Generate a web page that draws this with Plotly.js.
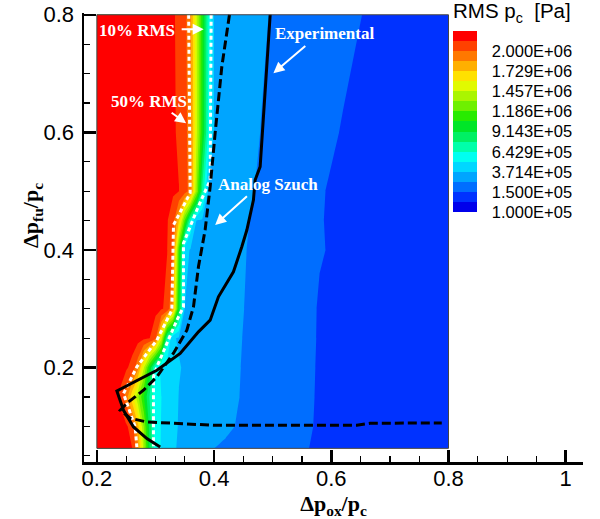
<!DOCTYPE html>
<html><head><meta charset="utf-8">
<script src="https://cdn.plot.ly/plotly-3.0.1.min.js"></script>
<style>html,body{margin:0;padding:0;background:#fff;}#chart{width:600px;height:519px;}</style>
</head><body><div id="chart"></div>
<script>
// Grid of the contour field: Δp_ox/p_c (columns) and Δp_fu/p_c (rows)
const dpOx = [0.20,0.23,0.24,0.25,0.26,0.27,0.28,0.29,0.30,0.31,0.32,0.33,0.34,0.35,0.36,0.37,0.38,0.39,0.40,0.42,0.44,0.46,0.48,0.50,0.52,0.55,0.58,0.62,0.66,0.72,0.80];
const dpFu = [0.0625,0.1,0.15,0.2,0.25,0.3,0.4,0.45,0.5,0.6,0.8];
// RMS p_c, in units of 1e5 Pa (one row per dpFu value)
const rmsPc = [
 [23.39,22.37,22.03,21.69,21.40,18.99,14.00,9.01,5.56,5.00,4.43,3.88,3.60,3.44,3.27,3.11,2.94,2.77,2.61,2.46,2.32,2.18,2.03,1.89,1.75,1.53,1.49,1.46,1.44,1.40,1.35],
 [23.39,22.31,21.94,21.57,20.76,17.73,13.21,8.69,5.56,5.03,4.50,3.99,3.66,3.55,3.44,3.33,3.22,3.11,2.99,2.77,2.56,2.39,2.20,2.02,1.84,1.58,1.49,1.46,1.44,1.40,1.35],
 [23.39,21.79,21.08,19.41,16.47,13.54,10.59,7.66,5.57,5.08,4.60,4.11,3.69,3.59,3.48,3.38,3.27,3.16,3.06,2.85,2.64,2.45,2.26,2.08,1.89,1.61,1.49,1.46,1.44,1.40,1.35],
 [23.39,22.31,21.94,21.57,20.91,19.12,14.73,10.34,5.95,4.80,4.46,4.12,3.78,3.63,3.53,3.42,3.30,3.19,3.09,2.87,2.66,2.47,2.30,2.11,1.92,1.64,1.49,1.47,1.44,1.40,1.35],
 [23.39,22.73,22.51,22.28,22.06,21.84,21.63,21.40,20.45,15.11,6.97,3.82,3.63,3.54,3.44,3.35,3.25,3.16,3.06,2.87,2.68,2.50,2.32,2.14,1.95,1.69,1.49,1.47,1.44,1.40,1.35],
 [23.39,22.87,22.70,22.52,22.35,22.18,22.01,21.84,21.67,21.49,21.08,18.27,9.68,3.71,3.60,3.49,3.38,3.27,3.16,2.94,2.72,2.52,2.34,2.16,1.99,1.72,1.49,1.47,1.44,1.40,1.35],
 [23.39,22.88,22.71,22.54,22.37,22.20,22.03,21.86,21.69,21.52,21.38,20.00,11.41,4.12,3.63,3.53,3.42,3.30,3.19,2.98,2.77,2.56,2.40,2.22,2.05,1.79,1.53,1.48,1.45,1.41,1.35],
 [23.39,22.90,22.74,22.58,22.41,22.25,22.09,21.92,21.76,21.60,21.44,20.68,17.23,11.72,6.18,3.68,3.56,3.44,3.33,3.08,2.85,2.61,2.43,2.24,2.06,1.80,1.52,1.48,1.45,1.41,1.35],
 [23.39,22.96,22.81,22.66,22.52,22.37,22.22,22.09,21.94,21.79,21.64,21.51,21.38,20.64,19.40,13.46,7.50,3.70,3.56,3.27,2.99,2.71,2.49,2.30,2.11,1.82,1.53,1.48,1.45,1.41,1.35],
 [23.39,22.94,22.79,22.66,22.51,22.36,22.21,22.06,21.91,21.76,21.63,21.48,21.22,20.54,19.14,14.84,10.54,6.25,3.67,3.40,3.13,2.85,2.59,2.42,2.24,1.98,1.72,1.49,1.46,1.41,1.35],
 [23.39,22.94,22.79,22.64,22.50,22.35,22.20,22.05,21.91,21.76,21.61,21.46,21.15,20.47,18.78,14.71,10.63,6.56,3.69,3.45,3.20,2.97,2.73,2.54,2.40,2.19,1.97,1.69,1.49,1.43,1.35]
];
// Legend contour levels (1e5 Pa) and labels
const levels = [1.0,1.25,1.5,2.607,3.714,5.071,6.429,7.786,9.143,10.5,11.86,13.21,14.57,15.93,17.29,18.64,20.0,21.36,22.71];
const cbTickLevels = [0,2,4,6,8,10,12,14,16];
const cbLabels = ["1.000E+05","1.500E+05","3.714E+05","6.429E+05","9.143E+05","1.186E+06","1.457E+06","1.729E+06","2.000E+06"];
const bandColors = ["rgb(0,0,235)","rgb(0,50,255)","rgb(0,110,255)","rgb(0,165,255)","rgb(0,215,255)","rgb(0,255,240)","rgb(0,255,170)","rgb(0,240,100)","rgb(0,230,40)","rgb(40,235,0)","rgb(110,240,0)","rgb(170,245,0)","rgb(225,250,0)","rgb(255,225,0)","rgb(255,175,0)","rgb(255,120,0)","rgb(255,65,0)","rgb(255,0,0)"];

// Lines
const expOx = [0.4957,0.4786,0.4700,0.4671,0.4559,0.4473,0.4330,0.4218,0.4074,0.3933,0.3733,0.3421,0.3023,0.2341,0.2454,0.2625,0.2853,0.3080];
const expFu = [0.8,0.5417,0.519,0.4849,0.4339,0.4054,0.3628,0.3431,0.3203,0.2806,0.2607,0.2239,0.1954,0.1602,0.1273,0.0989,0.0791,0.0648];
const szOx = [0.4262,0.4132,0.4018,0.3933,0.3847,0.3733,0.3648,0.3535,0.3307,0.3023,0.2795,0.2512,0.2397,0.2568,0.2853,0.3984,0.6435,0.6662,0.7885];
const szFu = [0.8,0.712,0.599,0.5076,0.4339,0.3713,0.3032,0.2636,0.2244,0.1841,0.1614,0.1392,0.1273,0.1137,0.1074,0.1018,0.1018,0.1052,0.1057];
const rms50Ox = [0.3566,0.3592,0.3307,0.3279,0.3023,0.2682,0.2454,0.2539,0.2653,0.2682];
const rms50Fu = [0.8,0.4969,0.4424,0.2976,0.2465,0.2011,0.1558,0.1329,0.0989,0.0648];
const rms10Ox = [0.395,0.3933,0.3706,0.3477,0.3477,0.3365,0.3023,0.2965,0.2965];
const rms10Fu = [0.8,0.519,0.4679,0.4112,0.3032,0.2806,0.2011,0.1841,0.066];

// map a value onto the (non-uniform) legend level scale
function toLevel(v){
  const n = levels.length;
  for(let i=0;i<n-1;i++){
    if(v < levels[i+1]) return i + (v-levels[i])/(levels[i+1]-levels[i]);
  }
  return (n-1) + (v-levels[n-1])/(levels[n-1]-levels[n-2]);
}
const zLev = rmsPc.map(r => r.map(toLevel));
const nb = bandColors.length;
const cscale = [];
bandColors.forEach((c,j)=>{ cscale.push([j/nb,c]); cscale.push([(j+1)/nb,c]); });

const sans = "Liberation Sans, Arial, Helvetica, sans-serif";
const serif = "Liberation Serif, Times New Roman, serif";

const traces = [
 // carries the legend colour bar (same field, not painted)
 {type:'heatmap', x:dpOx, y:dpFu, z:zLev, zmin:0, zmax:nb, colorscale:cscale, opacity:0, hoverinfo:'skip',
  showscale:true,
  colorbar:{x:0.7395, xanchor:'left', xpad:0, y:1.0290, yanchor:'top', ypad:0,
    len:212, lenmode:'pixels', thickness:24, thicknessmode:'pixels', outlinewidth:0,
    tickmode:'array', tickvals:cbTickLevels, ticktext:cbLabels, ticks:'outside', ticklen:12, tickcolor:'rgba(0,0,0,0)',
    tickfont:{family:sans, size:16.5, color:'#000'},
    title:{text:'RMS p<sub>c</sub>  [Pa]', side:'top', font:{family:sans, size:20.5, color:'#000'}}}},
 {type:'contour', x:dpOx, y:dpFu, z:zLev, autocontour:false, showscale:false,
  contours:{start:1,end:18,size:1,coloring:'fill',showlines:false},
  line:{width:0,smoothing:0}, colorscale:cscale, hoverinfo:'skip'},
 {type:'scatter', mode:'lines', x:rms50Ox, y:rms50Fu, line:{color:'white', width:3, dash:'4px,3px'}, hoverinfo:'skip'},
 {type:'scatter', mode:'lines', x:rms10Ox, y:rms10Fu, line:{color:'white', width:3, dash:'4px,3px'}, hoverinfo:'skip'},
 {type:'scatter', mode:'lines', x:szOx, y:szFu, line:{color:'black', width:3, dash:'9px,4px'}, hoverinfo:'skip'},
 {type:'scatter', mode:'lines', x:expOx, y:expFu, line:{color:'black', width:3}, hoverinfo:'skip'}
];

const lblFont = {family:serif, size:17, color:'white'};
function arrow(x,y,ax,ay){
  return {x:x,y:y,ax:ax,ay:ay,xref:'x',yref:'y',axref:'x',ayref:'y',text:'',showarrow:true,
    arrowhead:2,arrowsize:1.1,arrowwidth:2,arrowcolor:'white'};
}
const layout = {
  width:600, height:519, margin:{l:84,r:17,t:13,b:57,autoexpand:false},
  paper_bgcolor:'white', plot_bgcolor:'white', showlegend:false,
  xaxis:{range:[0.178,1.0295], tick0:0, dtick:0.2, ticks:'inside', ticklen:12, tickwidth:2.5, tickcolor:'black',
    showline:true, linewidth:2.5, linecolor:'black', showgrid:false, zeroline:false, ticklabelstandoff:-5,
    tickfont:{family:sans, size:22, color:'black'},
    minor:{tick0:0, dtick:0.05, ticks:'inside', ticklen:6, tickwidth:1.2, tickcolor:'black', showgrid:false},
    title:{text:'<b>Δp<sub>ox</sub>/p<sub>c</sub></b>', font:{family:serif, size:22, color:'black'}, standoff:0}},
  yaxis:{range:[0.0393,0.803], tick0:0, dtick:0.2, ticks:'inside', ticklen:12, tickwidth:2.5, tickcolor:'black',
    showline:true, linewidth:2.5, linecolor:'black', showgrid:false, zeroline:false, ticklabelstandoff:3,
    tickfont:{family:sans, size:22, color:'black'},
    minor:{tick0:0, dtick:0.05, ticks:'inside', ticklen:6, tickwidth:1.2, tickcolor:'black', showgrid:false}},
  shapes:[{type:'rect', xref:'x', yref:'y', x0:dpOx[0], x1:dpOx[dpOx.length-1], y0:dpFu[0], y1:dpFu[dpFu.length-1],
    line:{color:'#444', width:1}, layer:'above'}],
  annotations:[
    {xref:'paper', yref:'paper', x:-0.1042, y:0.548, textangle:-90, showarrow:false, xanchor:'center', yanchor:'middle',
     text:'<b>Δp<sub>fu</sub>/p<sub>c</sub></b>', font:{family:serif, size:22, color:'black'}},
    {xref:'x', yref:'y', x:0.268, y:0.7728, text:'<b>10% RMS</b>', showarrow:false, font:lblFont},
    {xref:'x', yref:'y', x:0.2892, y:0.653, text:'<b>50% RMS</b>', showarrow:false, font:lblFont},
    {xref:'x', yref:'y', x:0.5877, y:0.7685, text:'<b>Experimental</b>', showarrow:false, font:lblFont},
    {xref:'x', yref:'y', x:0.4922, y:0.5105, text:'<b>Analog Szuch</b>', showarrow:false, font:lblFont},
    arrow(0.3822,0.7753,0.3421,0.7753),
    arrow(0.3523,0.6156,0.3250,0.6353),
    arrow(0.5012,0.7007,0.5582,0.7489),
    arrow(0.4018,0.4424,0.4586,0.4935)
  ]
};
Plotly.newPlot('chart', traces, layout, {staticPlot:true, displayModeBar:false});
</script>
</body></html>
